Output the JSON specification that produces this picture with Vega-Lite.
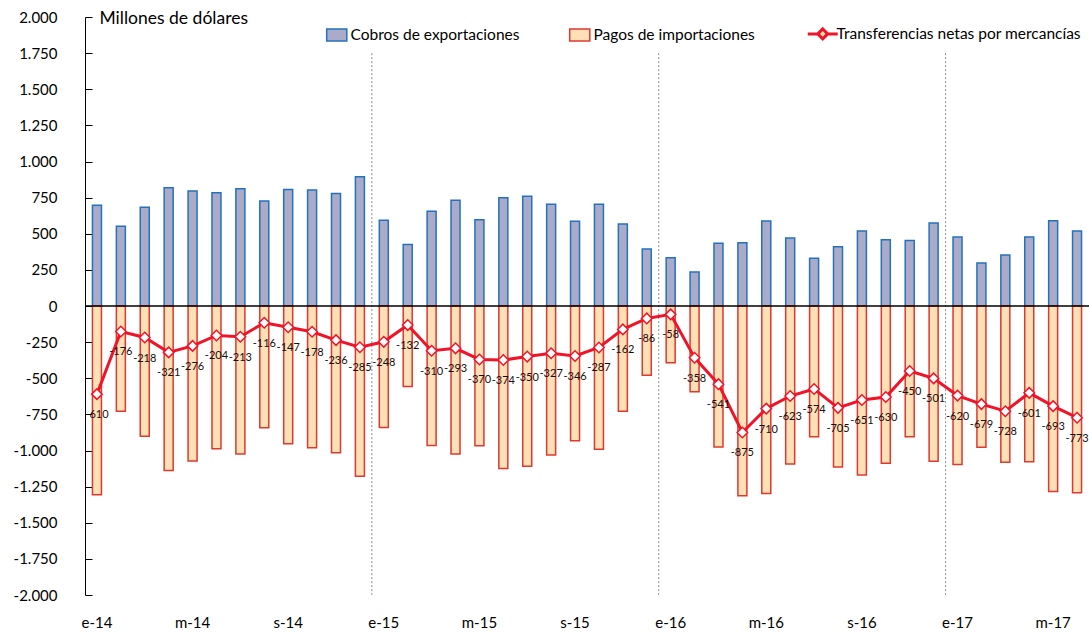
{
  "$schema": "https://vega.github.io/schema/vega-lite/v6.json",
  "width": 1004,
  "height": 578,
  "autosize": {"type": "none"},
  "padding": {"left": 85, "top": 17, "right": 0, "bottom": 37},
  "config": {
    "font": "Lato",
    "view": {"stroke": null},
    "axisY": {"labelOverlap": false},
    "locale": {"number": {"decimal": ",", "thousands": ".", "grouping": [3], "currency": ["", " €"], "minus": "-"}}
  },
  "data": {"values": [
    {"m": "2014-01", "exp": 697, "imp": -1307, "net": -610},
    {"m": "2014-02", "exp": 552, "imp": -728, "net": -176},
    {"m": "2014-03", "exp": 683, "imp": -901, "net": -218},
    {"m": "2014-04", "exp": 818, "imp": -1139, "net": -321},
    {"m": "2014-05", "exp": 796, "imp": -1072, "net": -276},
    {"m": "2014-06", "exp": 784, "imp": -988, "net": -204},
    {"m": "2014-07", "exp": 811, "imp": -1024, "net": -213},
    {"m": "2014-08", "exp": 727, "imp": -843, "net": -116},
    {"m": "2014-09", "exp": 807, "imp": -954, "net": -147},
    {"m": "2014-10", "exp": 803, "imp": -981, "net": -178},
    {"m": "2014-11", "exp": 779, "imp": -1015, "net": -236},
    {"m": "2014-12", "exp": 894, "imp": -1179, "net": -285},
    {"m": "2015-01", "exp": 593, "imp": -841, "net": -248},
    {"m": "2015-02", "exp": 425, "imp": -557, "net": -132},
    {"m": "2015-03", "exp": 655, "imp": -965, "net": -310},
    {"m": "2015-04", "exp": 731, "imp": -1024, "net": -293},
    {"m": "2015-05", "exp": 597, "imp": -967, "net": -370},
    {"m": "2015-06", "exp": 750, "imp": -1124, "net": -374},
    {"m": "2015-07", "exp": 759, "imp": -1109, "net": -350},
    {"m": "2015-08", "exp": 704, "imp": -1031, "net": -327},
    {"m": "2015-09", "exp": 586, "imp": -932, "net": -346},
    {"m": "2015-10", "exp": 704, "imp": -991, "net": -287},
    {"m": "2015-11", "exp": 567, "imp": -729, "net": -162},
    {"m": "2015-12", "exp": 394, "imp": -480, "net": -86},
    {"m": "2016-01", "exp": 334, "imp": -392, "net": -58},
    {"m": "2016-02", "exp": 235, "imp": -593, "net": -358},
    {"m": "2016-03", "exp": 434, "imp": -975, "net": -541},
    {"m": "2016-04", "exp": 438, "imp": -1313, "net": -875},
    {"m": "2016-05", "exp": 588, "imp": -1298, "net": -710},
    {"m": "2016-06", "exp": 471, "imp": -1094, "net": -623},
    {"m": "2016-07", "exp": 330, "imp": -904, "net": -574},
    {"m": "2016-08", "exp": 410, "imp": -1115, "net": -705},
    {"m": "2016-09", "exp": 519, "imp": -1170, "net": -651},
    {"m": "2016-10", "exp": 459, "imp": -1089, "net": -630},
    {"m": "2016-11", "exp": 454, "imp": -904, "net": -450},
    {"m": "2016-12", "exp": 574, "imp": -1075, "net": -501},
    {"m": "2017-01", "exp": 477, "imp": -1097, "net": -620},
    {"m": "2017-02", "exp": 298, "imp": -977, "net": -679},
    {"m": "2017-03", "exp": 353, "imp": -1081, "net": -728},
    {"m": "2017-04", "exp": 477, "imp": -1078, "net": -601},
    {"m": "2017-05", "exp": 590, "imp": -1283, "net": -693},
    {"m": "2017-06", "exp": 519, "imp": -1292, "net": -773}
  ]},
  "encoding": {
    "x": {
      "field": "m", "type": "ordinal",
      "scale": {"paddingInner": 0, "paddingOuter": 0},
      "axis": {
        "title": null,
        "values": ["2014-01", "2014-05", "2014-09", "2015-01", "2015-05", "2015-09", "2016-01", "2016-05", "2016-09", "2017-01", "2017-05"],
        "labelExpr": "(substring(datum.value,5,7)=='01'?'e':substring(datum.value,5,7)=='05'?'m':'s') + '-' + substring(datum.value,2,4)",
        "labelAngle": 0, "labelFontSize": 15, "labelColor": "#000",
        "ticks": false, "domain": false, "labelPadding": 20
      }
    }
  },
  "layer": [
    {
      "mark": {"type": "bar", "size": 9, "stroke": "#2471bd", "strokeWidth": 1.5},
      "encoding": {
        "y": {
          "field": "exp", "type": "quantitative",
          "scale": {"domain": [-2000, 2000], "nice": false},
          "axis": {
            "title": "Millones de dólares", "titleAngle": 0, "titleAlign": "left", "titleBaseline": "middle",
            "titleX": 14, "titleY": 1, "titleFontSize": 17.5, "titleFontWeight": "normal", "titleColor": "#000",
            "values": [-2000, -1750, -1500, -1250, -1000, -750, -500, -250, 0, 250, 500, 750, 1000, 1250, 1500, 1750, 2000],
            "format": ",d", "labelFontSize": 15, "labelColor": "#000", "grid": false, "labelOverlap": false,
            "tickSize": -7, "labelPadding": 35, "domainColor": "#000", "tickColor": "#000"
          }
        },
        "color": {
          "datum": "Cobros de exportaciones", "type": "nominal",
          "scale": {
            "domain": ["Cobros de exportaciones", "Pagos de importaciones", "Transferencias netas por mercancías"],
            "range": ["#aaabc9", "#fde0b5", "#fde0b5"]
          },
          "legend": {
            "title": null, "orient": "none", "legendX": 244, "legendY": 9, "direction": "horizontal",
            "columnPadding": 46, "labelFontSize": 15.5, "labelColor": "#000", "labelLimit": 400, "symbolSize": 900,
            "labelOffset": 6, "symbolOpacity": 1,
            "symbolType": {"expr": "(datum && datum.value === 'Transferencias netas por mercancías') ? 'M-1,0H-0.33M0.33,0H1M-0.33,0L0,-0.33L0.33,0L0,0.33Z' : 'M-0.67,-0.4H0.67V0.4H-0.67Z'"},
            "symbolStrokeColor": {"expr": "(datum && datum.value === 'Cobros de exportaciones') ? '#2471bd' : (datum && datum.value === 'Pagos de importaciones') ? '#e0382e' : '#f01428'"},
            "symbolStrokeWidth": {"expr": "(datum && datum.value === 'Transferencias netas por mercancías') ? 3 : 1.5"}
          }
        }
      }
    },
    {
      "mark": {"type": "bar", "size": 9, "stroke": "#e0382e", "strokeWidth": 1.5},
      "encoding": {
        "y": {
          "field": "imp", "type": "quantitative",
          "axis": {
            "title": "Millones de dólares", "titleAngle": 0, "titleAlign": "left", "titleBaseline": "middle",
            "titleX": 14, "titleY": 1, "titleFontSize": 17.5, "titleFontWeight": "normal", "titleColor": "#000",
            "values": [-2000, -1750, -1500, -1250, -1000, -750, -500, -250, 0, 250, 500, 750, 1000, 1250, 1500, 1750, 2000],
            "format": ",d", "labelFontSize": 15, "labelColor": "#000", "grid": false, "labelOverlap": false,
            "tickSize": -7, "labelPadding": 35, "domainColor": "#000", "tickColor": "#000"
          }
        },
        "color": {"datum": "Pagos de importaciones", "type": "nominal", "legend": null}
      }
    },
    {
      "data": {"values": [{"m": "2015-01"}, {"m": "2016-01"}, {"m": "2017-01"}]},
      "mark": {"type": "rule", "color": "#8c8c8c", "strokeDash": [2, 2], "strokeWidth": 1},
      "encoding": {
        "x": {"field": "m", "type": "ordinal", "bandPosition": 0},
        "y": {
          "datum": 1750, "type": "quantitative",
          "axis": {
            "title": "Millones de dólares", "titleAngle": 0, "titleAlign": "left", "titleBaseline": "middle",
            "titleX": 14, "titleY": 1, "titleFontSize": 17.5, "titleFontWeight": "normal", "titleColor": "#000",
            "values": [-2000, -1750, -1500, -1250, -1000, -750, -500, -250, 0, 250, 500, 750, 1000, 1250, 1500, 1750, 2000],
            "format": ",d", "labelFontSize": 15, "labelColor": "#000", "grid": false, "labelOverlap": false,
            "tickSize": -7, "labelPadding": 35, "domainColor": "#000", "tickColor": "#000"
          }
        },
        "y2": {"datum": -2000}
      }
    },
    {
      "data": {"values": [{"z": 0}]},
      "mark": {"type": "rule", "color": "#000", "strokeWidth": 1.5},
      "encoding": {
        "x": null,
        "y": {
          "field": "z", "type": "quantitative",
          "axis": {
            "title": "Millones de dólares", "titleAngle": 0, "titleAlign": "left", "titleBaseline": "middle",
            "titleX": 14, "titleY": 1, "titleFontSize": 17.5, "titleFontWeight": "normal", "titleColor": "#000",
            "values": [-2000, -1750, -1500, -1250, -1000, -750, -500, -250, 0, 250, 500, 750, 1000, 1250, 1500, 1750, 2000],
            "format": ",d", "labelFontSize": 15, "labelColor": "#000", "grid": false, "labelOverlap": false,
            "tickSize": -7, "labelPadding": 35, "domainColor": "#000", "tickColor": "#000"
          }
        }
      }
    },
    {
      "mark": {"type": "line", "strokeWidth": 3, "color": "#f01428"},
      "encoding": {
        "y": {
          "field": "net", "type": "quantitative",
          "axis": {
            "title": "Millones de dólares", "titleAngle": 0, "titleAlign": "left", "titleBaseline": "middle",
            "titleX": 14, "titleY": 1, "titleFontSize": 17.5, "titleFontWeight": "normal", "titleColor": "#000",
            "values": [-2000, -1750, -1500, -1250, -1000, -750, -500, -250, 0, 250, 500, 750, 1000, 1250, 1500, 1750, 2000],
            "format": ",d", "labelFontSize": 15, "labelColor": "#000", "grid": false, "labelOverlap": false,
            "tickSize": -7, "labelPadding": 35, "domainColor": "#000", "tickColor": "#000"
          }
        }
      }
    },
    {
      "mark": {"type": "point", "shape": "diamond", "filled": true, "fill": "#ffffff", "stroke": "#f01428", "strokeWidth": 1.5, "size": 110, "opacity": 1},
      "encoding": {
        "y": {
          "field": "net", "type": "quantitative",
          "axis": {
            "title": "Millones de dólares", "titleAngle": 0, "titleAlign": "left", "titleBaseline": "middle",
            "titleX": 14, "titleY": 1, "titleFontSize": 17.5, "titleFontWeight": "normal", "titleColor": "#000",
            "values": [-2000, -1750, -1500, -1250, -1000, -750, -500, -250, 0, 250, 500, 750, 1000, 1250, 1500, 1750, 2000],
            "format": ",d", "labelFontSize": 15, "labelColor": "#000", "grid": false, "labelOverlap": false,
            "tickSize": -7, "labelPadding": 35, "domainColor": "#000", "tickColor": "#000"
          }
        }
      }
    },
    {
      "mark": {"type": "text", "dy": 21, "fontSize": 11, "color": "#111"},
      "encoding": {
        "y": {
          "field": "net", "type": "quantitative",
          "axis": {
            "title": "Millones de dólares", "titleAngle": 0, "titleAlign": "left", "titleBaseline": "middle",
            "titleX": 14, "titleY": 1, "titleFontSize": 17.5, "titleFontWeight": "normal", "titleColor": "#000",
            "values": [-2000, -1750, -1500, -1250, -1000, -750, -500, -250, 0, 250, 500, 750, 1000, 1250, 1500, 1750, 2000],
            "format": ",d", "labelFontSize": 15, "labelColor": "#000", "grid": false, "labelOverlap": false,
            "tickSize": -7, "labelPadding": 35, "domainColor": "#000", "tickColor": "#000"
          }
        },
        "text": {"field": "net", "type": "quantitative", "format": "d"}
      }
    }
  ]
}
